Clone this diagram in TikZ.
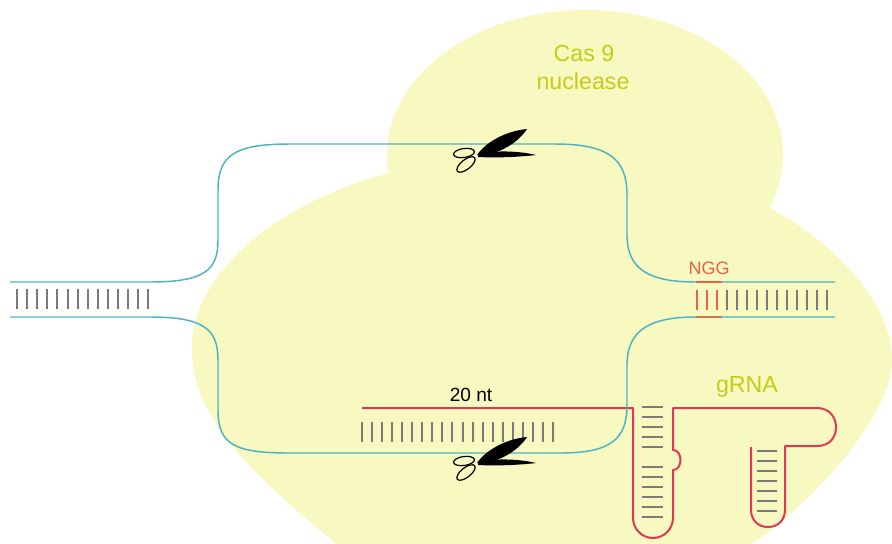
\documentclass[tikz,border=0pt]{standalone}
\usepackage{fontspec}
\setmainfont{Liberation Sans}
\definecolor{casfill}{RGB}{247,249,192}
\definecolor{strandcol}{RGB}{78,178,192}
\definecolor{basecol}{RGB}{122,122,118}
\definecolor{rnacol}{RGB}{222,56,82}
\definecolor{pamcol}{RGB}{232,98,70}
\definecolor{pamlow}{RGB}{200,120,82}
\definecolor{labelcol}{RGB}{198,204,22}
\begin{document}
\begin{tikzpicture}[x=0.75pt,y=-0.75pt,
  strand/.style={draw=strandcol, line width=1.1pt},
  basepair/.style={draw=basecol, line width=1.5pt},
  pambase/.style={draw=pamcol, line width=1.5pt},
  rnaline/.style={draw=rnacol, line width=1.5pt, line join=round},
  caslabel/.style={text=labelcol, font=\fontsize{17.4}{21}\selectfont, anchor=base, inner sep=0pt},
  shears/.pic={
    % blades
    \fill[black] (-3,0) .. controls (5,-12) and (25,-24) .. (47,-26)
                 .. controls (38,-12) and (20,-2) .. (2,1) -- cycle;
    \fill[black] (-2,-1) .. controls (15,-5) and (40,-4) .. (56,0)
                 .. controls (40,2) and (15,3) .. (-2,2) -- cycle;
    % finger loops
    \draw[line width=0.9pt, rotate around={8:(-16,-2)}] (-16,-2) ellipse [x radius=10.5, y radius=4.5];
    \draw[line width=0.9pt, rotate around={38:(-14,9.5)}] (-14,9.5) ellipse [x radius=11, y radius=4.8];
  }]
\useasboundingbox (0,0) rectangle (892,543);
\clip (0,0) rectangle (892,543);

% Cas9 protein body: upper lobe and the large lower body
\fill[casfill] (585,155) ellipse [x radius=198, y radius=145];
\fill[casfill] (390,173)
  .. controls (300,195) and (195,260) .. (192,345)
  .. controls (189,420) and (260,480) .. (335,543)
  .. controls (360,565) and (400,590) .. (500,600) -- (650,600)
  .. controls (690,595) and (700,575) .. (745,548)
  .. controls (800,515) and (892,420) .. (892,360)
  .. controls (892,300) and (830,240) .. (770,208)
  -- (600,175) -- (450,170) -- cycle;

% base pairs of the DNA duplex
\foreach \i in {0,...,13} \draw[basepair] ({17+10.1*\i},289) -- ++(0,20);
\foreach \i in {0,...,2} \draw[pambase] ({697+10*\i},290) -- ++(0,20);
\foreach \i in {0,...,10} \draw[basepair] ({727+10*\i},290) -- ++(0,20);
\foreach \i in {0,...,19} \draw[basepair] ({362+10.05*\i},422) -- ++(0,20);

% guide RNA with its two hairpins
\draw[rnaline] (362,408) -- (633,408) -- (633,518)
  .. controls (633,529) and (642,538) .. (653,538)
  .. controls (664,538) and (673,529) .. (673,518) -- (673,470)
  .. controls (683,470) and (683,450) .. (673,450) -- (673,408) -- (817,408)
  .. controls (830,408) and (836,418) .. (836,427)
  .. controls (836,437) and (830,446) .. (817,446) -- (785,446) -- (785,510)
  .. controls (785,520) and (778,527) .. (768,527)
  .. controls (758,527) and (751,520) .. (751,510) -- (751,447);
\foreach \y in {407,417,427,437,447,467,477,487,497,507,517}
  \draw[basepair] (642,\y) -- (663,\y);
\foreach \y in {451,461,471,481,491,501,511}
  \draw[basepair] (757,\y) -- (777,\y);

% the two DNA strands, pulled apart inside the protein
\draw[strand] (10,282) -- (150,282)
  .. controls (205,282) and (218,270) .. (218,240) -- (218,190)
  .. controls (218,155) and (235,144) .. (290,144) -- (555,144)
  .. controls (610,144) and (627,160) .. (627,195) -- (627,235)
  .. controls (627,270) and (650,282) .. (696,282) -- (835,282);
\draw[strand] (10,317) -- (150,317)
  .. controls (205,317) and (218,330) .. (218,360) -- (218,410)
  .. controls (218,445) and (235,453) .. (290,453) -- (560,453)
  .. controls (610,453) and (627,440) .. (627,405) -- (627,365)
  .. controls (627,330) and (650,317) .. (696,317) -- (835,317);

% PAM site
\draw[draw=pamcol, line width=1.3pt] (696,282) -- (722,282);
\draw[draw=pamlow, line width=2.2pt] (696,317) -- (722,317);

% cut sites
\pic at (480,155) {shears};
\pic at (480,463) {shears};

% labels
\node[caslabel] (cas) at (584,61) {Cas 9};
\node[caslabel] (nuclease) at (583,89) {nuclease};
\node[caslabel] (grna) at (747,392) {gRNA};
\node[anchor=base, inner sep=0pt, font=\fontsize{14.3}{17}\selectfont] (nt) at (471,401) {20 nt};
\node[anchor=base, inner sep=0pt, text=pamcol, font=\fontsize{13.5}{16}\selectfont] (ngg) at (709,274) {NGG};
\end{tikzpicture}
\end{document}
